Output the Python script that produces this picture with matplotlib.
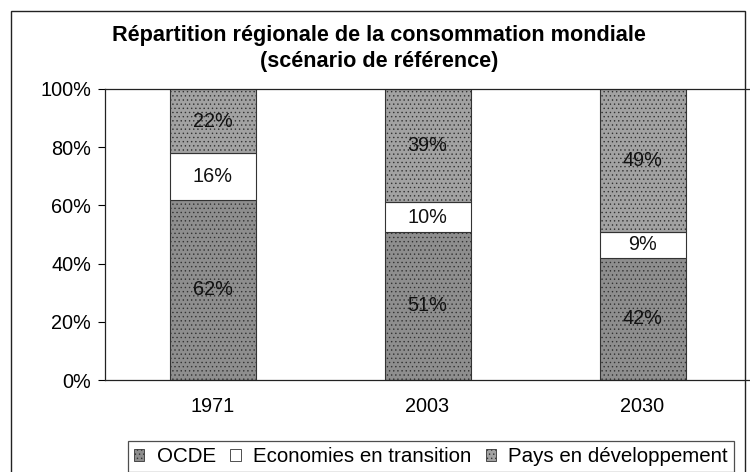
import matplotlib
matplotlib.use("Agg")
import matplotlib.pyplot as plt
from matplotlib.patches import Rectangle, Patch
import numpy as np

plt.rcParams['font.family'] = ['Liberation Sans', 'DejaVu Sans']
plt.rcParams['hatch.linewidth'] = 0.5

years = ["1971", "2003", "2030"]
ocde = [62, 51, 42]
transition = [16, 10, 9]
developpement = [22, 39, 49]
series_names = ["OCDE", "Economies en transition", "Pays en développement"]
yticks = [0, 20, 40, 60, 80, 100]
ytick_labels = ["0%", "20%", "40%", "60%", "80%", "100%"]

W, H = 750, 472
fig = plt.figure(figsize=(W / 100, H / 100), dpi=100)

# outer frame
fig.patches.append(Rectangle((11 / W, -0.05), (745 - 11) / W, 1 - 11 / H + 0.05,
                             transform=fig.transFigure, fill=False,
                             edgecolor='#222222', linewidth=1.0, zorder=0))

ax = fig.add_axes([105 / W, 1 - 380 / H, (750 - 105) / W, (380 - 89) / H])
x = np.arange(len(years))
bw = 0.40
c_ocde = '#8e8e8e'
c_tr = '#ffffff'
c_dev = '#a2a2a2'
fs = 14.3

b1 = ax.bar(x, ocde, bw, color=c_ocde, edgecolor='#333333', linewidth=0.8,
            hatch='....', zorder=2)
b2 = ax.bar(x, transition, bw, bottom=ocde, color=c_tr, edgecolor='#333333',
            linewidth=0.8, zorder=2)
bottom3 = [a + b for a, b in zip(ocde, transition)]
b3 = ax.bar(x, developpement, bw, bottom=bottom3, color=c_dev, edgecolor='#333333',
            linewidth=0.8, hatch='....', zorder=2)

for i in range(len(years)):
    ax.text(x[i], ocde[i] / 2, f"{ocde[i]}%", ha='center', va='center', fontsize=fs, color='#111111', zorder=3)
    ax.text(x[i], ocde[i] + transition[i] / 2, f"{transition[i]}%", ha='center', va='center', fontsize=fs, color='#111111', zorder=3)
    ax.text(x[i], bottom3[i] + developpement[i] / 2, f"{developpement[i]}%", ha='center', va='center', fontsize=fs, color='#111111', zorder=3)

ax.set_xlim(-0.5, len(years) - 0.5)
ax.set_ylim(0, 100)
ax.set_yticks(yticks)
ax.set_yticklabels(ytick_labels, fontsize=fs)
ax.set_xticks(x)
ax.set_xticklabels(years, fontsize=fs)
ax.tick_params(axis='x', length=0, pad=12)
ax.tick_params(axis='y', direction='out', length=5, width=0.8, pad=5)
ax.spines['right'].set_visible(False)
for s in ('left', 'top', 'bottom'):
    ax.spines[s].set_linewidth(0.9)
    ax.spines[s].set_color('#222222')

fig.text(379 / W, 1 - 36 / H, "Répartition régionale de la consommation mondiale",
         ha='center', va='center', fontsize=15.6, fontweight='bold')
fig.text(379 / W, 1 - 61 / H, "(scénario de référence)",
         ha='center', va='center', fontsize=15.6, fontweight='bold')

handles = [Patch(facecolor=c_ocde, edgecolor='#333333', hatch='....', linewidth=0.6),
           Patch(facecolor=c_tr, edgecolor='#333333', linewidth=0.6),
           Patch(facecolor=c_dev, edgecolor='#333333', hatch='....', linewidth=0.6)]
leg = fig.legend(handles, series_names, loc='upper left',
                 bbox_to_anchor=(128 / W, 1 - 441 / H), ncol=3, fontsize=14.8,
                 frameon=True, fancybox=False, edgecolor='#222222',
                 handlelength=0.5, handleheight=0.5, handletextpad=0.6,
                 columnspacing=0.7, borderpad=0.3, borderaxespad=0)
leg.get_frame().set_linewidth(0.9)

fig.savefig("out.png", dpi=100)
